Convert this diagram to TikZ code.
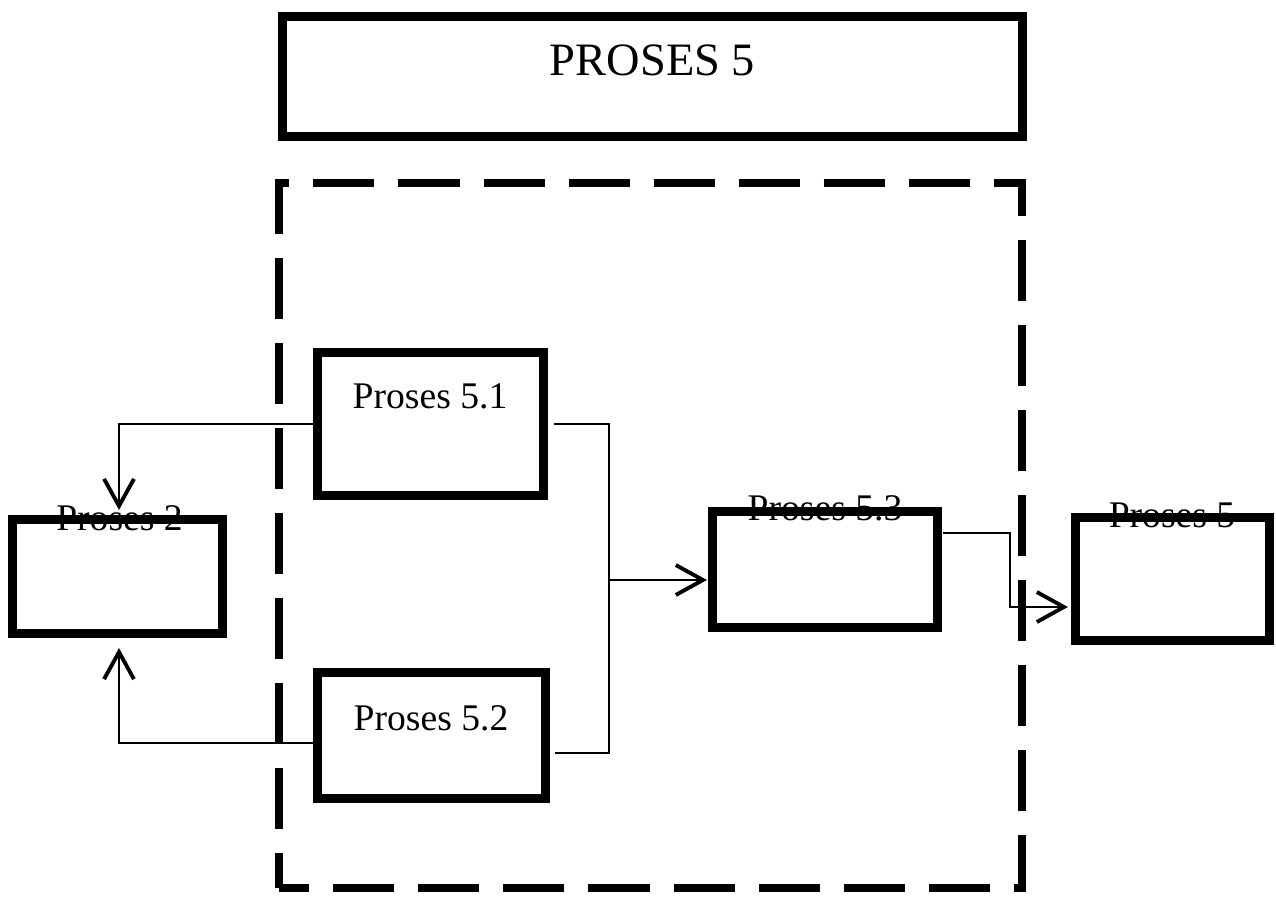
\documentclass[tikz,border=0pt]{standalone}
\usepackage{fontspec}
\setmainfont{Liberation Serif}
\usetikzlibrary{arrows.meta}
\begin{document}
\begin{tikzpicture}[x=0.01cm,y=-0.01cm,
  pbox/.style={draw, line width=0.09cm, inner sep=0pt, fill=none},
  plabel/.style={anchor=base, inner sep=0pt, font=\fontsize{10.7}{12}\selectfont},
  conn/.style={draw, line width=0.6pt},
  tip/.tip={Straight Barb[length=7.7pt,width=8.5pt,line width=1.1pt]},
  frame/.style={line width=0.08cm, dash pattern=on 0.61cm off 0.24cm, dash phase=0.26cm}]
\useasboundingbox (0,0) rectangle (1276,897);
% dashed frame
\draw[frame] (279,888) -- (279,183) -- (1022,183) -- (1022,888) -- cycle;
% boxes
\node[pbox, minimum width=7.40cm, minimum height=1.20cm] (top) at (652.5,76.5) {};
\node[pbox, minimum width=2.26cm, minimum height=1.43cm] (p51) at (430.5,424) {};
\node[pbox, minimum width=2.28cm, minimum height=1.26cm] (p52) at (431.5,735.5) {};
\node[pbox, minimum width=2.25cm, minimum height=1.16cm] (p53) at (825,569.5) {};
\node[pbox, minimum width=2.10cm, minimum height=1.14cm] (p2) at (117.5,576.5) {};
\node[pbox, minimum width=1.94cm, minimum height=1.23cm] (p5) at (1172.5,579) {};
% texts
\node[anchor=base, inner sep=0pt, font=\fontsize{13.2}{15}\selectfont] (ttop) at (652.5,75) {PROSES 5};
\node[plabel] (t51) at (430,408) {Proses 5.1};
\node[plabel] (t52) at (431,730) {Proses 5.2};
\node[plabel] (t53) at (825,520) {Proses 5.3};
\node[plabel] (t2) at (119.5,530) {Proses 2};
\node[plabel] (t5) at (1172,527) {Proses 5};
% connectors
\coordinate (bus) at (609,580);
\coordinate (k) at (1010,607);
\draw[conn, -{tip}, shorten >=0.05cm] (p51.west) -| ([xshift=0.015cm]p2.north);
\draw[conn, -{tip}, shorten >=0.10cm] ([yshift=-0.075cm]p52.west) -| ([xshift=0.015cm]p2.south);
\draw[conn, shorten <=0.06cm] (p51.east) -| (bus);
\draw[conn, shorten <=0.05cm] ([yshift=-0.175cm]p52.east) -| (bus);
\draw[conn, -{tip}, shorten >=0.01cm] (bus) -- (bus -| p53.west);
\draw[conn, -{tip}, shorten <=0.01cm, shorten >=0.03cm] ([yshift=0.365cm]p53.east) -| (k) -- (k -| p5.west);
\end{tikzpicture}
\end{document}
